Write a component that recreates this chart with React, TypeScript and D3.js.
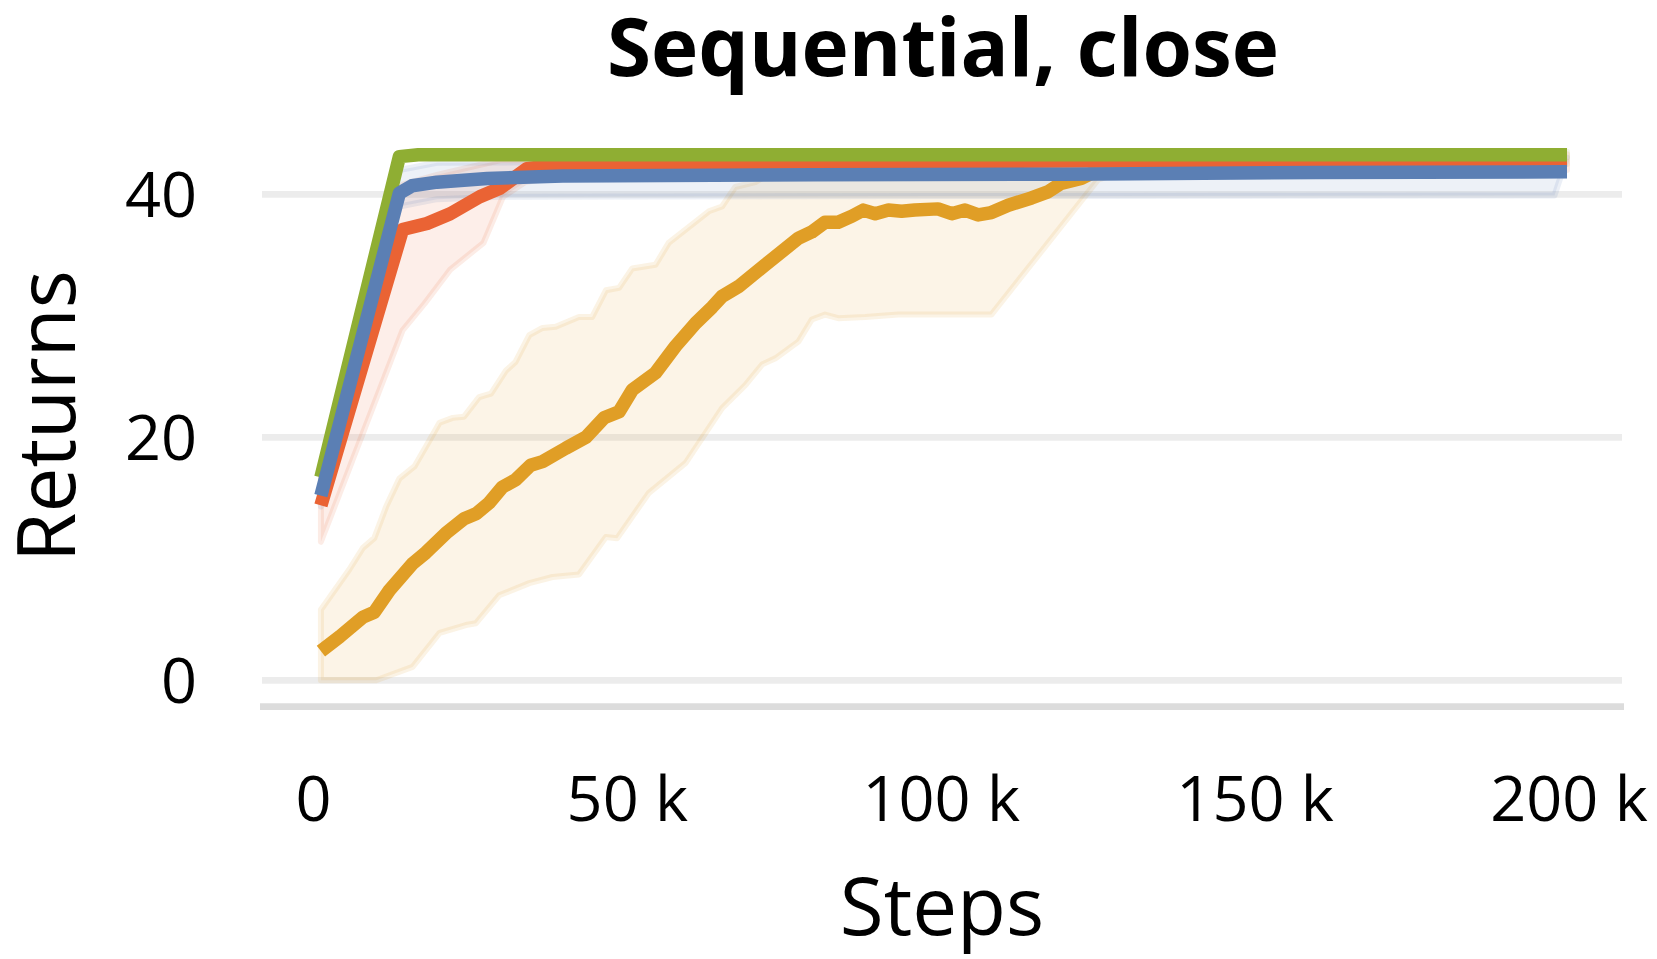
import React from "react";
import * as d3 from "d3";

// ---- Data (steps in thousands) ----
const xTicks = [0, 50, 100, 150, 200];
const xTickLabels = ["0", "50 k", "100 k", "150 k", "200 k"];
const yTicks = [0, 20, 40];
const yTickLabels = ["0", "20", "40"];

// Orange series
const orangeSteps = [1.5, 4.5, 8.2, 10, 12.4, 16.1, 18.2, 21.4, 24.3, 26.2, 28.3, 30.4, 32.5, 34.9, 36.8, 40.5, 43.7, 46.6, 49.0, 51.1, 54.8, 58.0, 61.2, 63.8, 65.4, 68.0, 72.3, 77.6, 79.7, 81.8, 83.9, 86.1, 87.9, 89.8, 91.9, 94.0, 96.1, 99.8, 102.0, 104.1, 106.2, 108.3, 111.0, 114.7, 117.3, 119.4, 122.6, 125.3, 128.5, 140, 160, 180, 200];
const orangeMean = [2.4, 3.6, 5.2, 5.6, 7.4, 9.6, 10.5, 12.1, 13.3, 13.7, 14.6, 15.9, 16.5, 17.7, 18.0, 19.1, 20.0, 21.6, 22.1, 23.9, 25.3, 27.5, 29.4, 30.7, 31.6, 32.4, 34.2, 36.4, 36.9, 37.7, 37.7, 38.2, 38.7, 38.4, 38.7, 38.6, 38.7, 38.8, 38.4, 38.7, 38.3, 38.5, 39.1, 39.7, 40.2, 40.9, 41.3, 42.0, 42.5, 42.6, 42.7, 42.7, 42.7];
const orangeUpperSteps = [1.5, 6.0, 8.2, 10.0, 11.9, 14.0, 16.4, 18.2, 20.4, 22.5, 24.3, 26.7, 28.6, 31.0, 32.5, 34.7, 36.8, 38.9, 42.6, 44.7, 46.9, 49.0, 51.1, 54.8, 56.9, 63.3, 65.4, 67.5, 70.7, 75, 100, 150, 200];
const orangeUpper = [5.8, 9.1, 10.9, 11.7, 14.3, 16.6, 17.6, 19.2, 21.2, 21.6, 21.7, 23.3, 23.6, 25.5, 26.2, 28.4, 29.0, 29.1, 29.9, 29.9, 32.1, 32.3, 33.9, 34.2, 36.0, 38.6, 39.0, 40.6, 41.0, 42.4, 42.6, 42.7, 42.7];
const orangeLowerSteps = [1.5, 4.1, 6.4, 8.4, 10.3, 16.1, 20.4, 24.6, 26.2, 29.9, 34.7, 38.4, 42.6, 46.9, 48.7, 53.7, 59.6, 65.4, 69.1, 71.8, 73.9, 77.6, 79.7, 81.8, 83.9, 88.2, 93.5, 99.8, 103.0, 108.3, 125.3, 130, 200];
const orangeLower = [0, 0, 0, 0, 0, 1.1, 3.9, 4.55, 4.7, 7.0, 8.0, 8.5, 8.7, 11.8, 11.7, 15.4, 17.9, 22.4, 24.3, 26.0, 26.5, 27.9, 29.7, 30.1, 29.8, 29.9, 30.1, 30.1, 30.1, 30.1, 41.2, 42.0, 42.5];

// Red series
const redSteps = [1.5, 14.5, 18.4, 22.1, 26.8, 30.0, 34.3, 40, 60, 100, 150, 200];
const redMean = [14.4, 37.1, 37.6, 38.4, 39.8, 40.5, 42.1, 42.5, 42.6, 42.7, 42.8, 42.8];
const redUpperSteps = [1.5, 14.5, 20, 30, 200];
const redUpper = [17.0, 40.8, 41.6, 42.8, 43.3];
const redLowerSteps = [1.5, 14.5, 18.0, 22.1, 27.4, 30.5, 34, 40, 200];
const redLower = [11.4, 28.8, 31.0, 33.8, 36.0, 39.8, 41.0, 41.5, 42.0];

// Blue series
const blueSteps = [1.5, 14, 16, 20, 28, 40, 80, 120, 160, 200];
const blueMean = [15.2, 40.1, 40.7, 41.0, 41.3, 41.5, 41.6, 41.65, 41.8, 41.85];
const blueUpperSteps = [1.5, 14, 20, 200];
const blueUpper = [16.0, 42.0, 42.6, 43.0];
const blueLowerSteps = [1.5, 14, 20, 30, 100, 198];
const blueLower = [14.3, 39.0, 39.6, 39.8, 39.85, 39.9];

// Green series
const greenSteps = [1.5, 14, 17, 200];
const greenMean = [16.7, 43.1, 43.25, 43.25];
const greenUpper = [16.9, 43.4, 43.5, 43.5];
const greenLower = [16.5, 42.9, 43.05, 43.05];

const COLORS = {
  orange: "#e09e26",
  red: "#ea6334",
  green: "#8fae33",
  blue: "#5b7fb4",
};

const W = 1657;
const H = 959;
const FONT = "'Open Sans', 'Noto Sans', sans-serif";

export default function App() {
  const x = d3.scaleLinear().domain([0, 200]).range([311.5, 1567]);
  const y = d3.scaleLinear().domain([0, 40]).range([680.3, 194.3]);

  const line = d3
    .line<[number, number]>()
    .x((d) => x(d[0]))
    .y((d) => y(d[1]));

  const zip = (s: number[], v: number[]): [number, number][] =>
    s.map((t, i) => [t, v[i]] as [number, number]);

  const bandPath = (us: number[], u: number[], ls: number[], l: number[]) => {
    const pts = [...zip(us, u), ...zip(ls, l).reverse()];
    return line(pts) + "Z";
  };

  const bands = [
    { c: COLORS.orange, d: bandPath(orangeUpperSteps, orangeUpper, orangeLowerSteps, orangeLower) },
    { c: COLORS.red, d: bandPath(redUpperSteps, redUpper, redLowerSteps, redLower) },
    { c: COLORS.blue, d: bandPath(blueUpperSteps, blueUpper, blueLowerSteps, blueLower) },
    { c: COLORS.green, d: bandPath(greenSteps, greenUpper, greenSteps, greenLower) },
  ];

  const lines = [
    { c: COLORS.orange, d: line(zip(orangeSteps, orangeMean)) },
    { c: COLORS.red, d: line(zip(redSteps, redMean)) },
    { c: COLORS.green, d: line(zip(greenSteps, greenMean)) },
    { c: COLORS.blue, d: line(zip(blueSteps, blueMean)) },
  ];

  return (
    <svg
      width={W}
      height={H}
      viewBox={`0 0 ${W} ${H}`}
      style={{ position: "absolute", left: 0, top: 0, background: "#fff" }}
    >
      <rect x={0} y={0} width={W} height={H} fill="#fff" />
      {/* title */}
      <text x={943} y={76} textAnchor="middle" fontFamily={FONT} fontWeight={700} fontSize={80} fill="#000">
        Sequential, close
      </text>
      {/* gridlines */}
      {yTicks.map((t) => (
        <line key={t} x1={262} x2={1622} y1={y(t)} y2={y(t)} stroke="#ececec" strokeWidth={6.7} />
      ))}
      {/* bottom axis line */}
      <line x1={260} x2={1624} y1={706.7} y2={706.7} stroke="#dcdcdc" strokeWidth={6.7} />
      {/* y tick labels */}
      {yTicks.map((t, i) => (
        <text key={t} x={197} y={y(t)} dy="0.36em" textAnchor="end" fontFamily={FONT} fontSize={63} fill="#000">
          {yTickLabels[i]}
        </text>
      ))}
      {/* x tick labels */}
      {xTicks.map((t, i) => (
        <text key={t} x={x(t) + 2} y={821} textAnchor="middle" fontFamily={FONT} fontSize={63} fill="#000">
          {xTickLabels[i]}
        </text>
      ))}
      {/* axis titles */}
      <text x={942} y={935} textAnchor="middle" fontFamily={FONT} fontSize={80} fill="#000">
        Steps
      </text>
      <text
        transform={`translate(75,416) rotate(-90)`}
        textAnchor="middle"
        fontFamily={FONT}
        fontSize={80}
        fill="#000"
      >
        Returns
      </text>
      {/* bands */}
      {bands.map((b, i) => (
        <path
          key={i}
          d={b.d}
          fill={b.c}
          fillOpacity={0.11}
          stroke={b.c}
          strokeOpacity={0.12}
          strokeWidth={6}
          strokeLinejoin="round"
        />
      ))}
      {/* mean lines */}
      {lines.map((l, i) => (
        <path
          key={i}
          d={l.d || ""}
          fill="none"
          stroke={l.c}
          strokeWidth={13.5}
          strokeLinejoin="round"
          strokeLinecap="butt"
        />
      ))}
    </svg>
  );
}
